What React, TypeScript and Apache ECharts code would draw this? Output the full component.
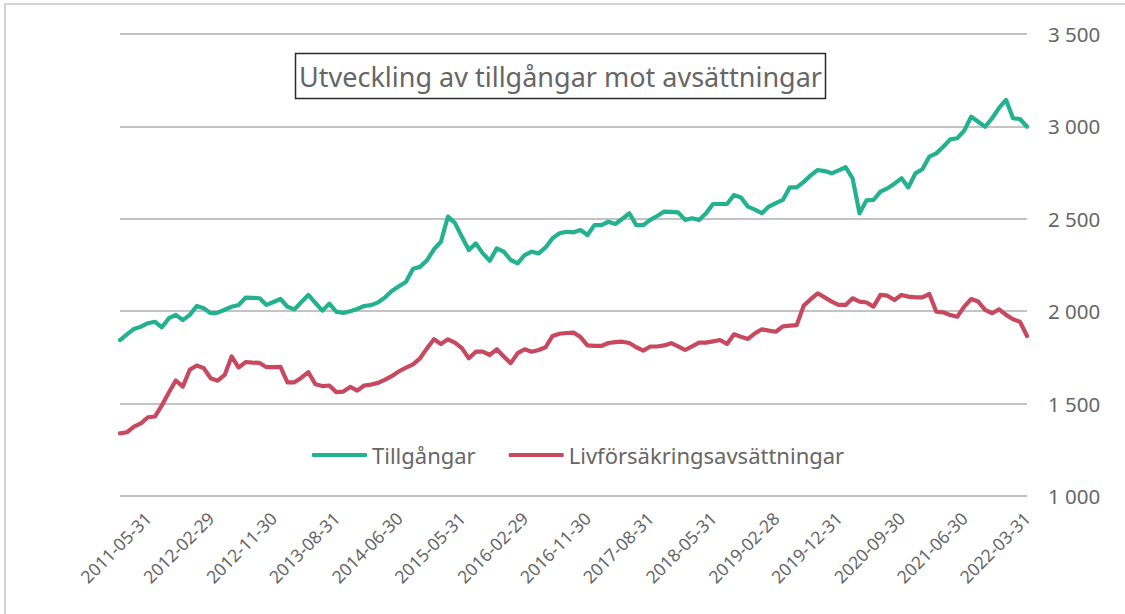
import React, { useEffect, useRef } from "react";
import * as echarts from "echarts";

const categories: string[] = [
  "2011-01-31", "2011-02-28", "2011-03-31", "2011-04-30", "2011-05-31", "2011-06-30", "2011-07-31", "2011-08-31", "2011-09-30", "2011-10-31", "2011-11-30", "2011-12-31",
  "2012-01-31", "2012-02-29", "2012-03-31", "2012-04-30", "2012-05-31", "2012-06-30", "2012-07-31", "2012-08-31", "2012-09-30", "2012-10-31", "2012-11-30", "2012-12-31",
  "2013-01-31", "2013-02-28", "2013-03-31", "2013-04-30", "2013-05-31", "2013-06-30", "2013-07-31", "2013-08-31", "2013-09-30", "2013-10-31", "2013-11-30",
  "2014-01-31", "2014-02-28", "2014-03-31", "2014-04-30", "2014-05-31", "2014-06-30", "2014-07-31", "2014-08-31", "2014-09-30", "2014-10-31", "2014-11-30",
  "2015-02-28", "2015-03-31", "2015-04-30", "2015-05-31", "2015-06-30", "2015-07-31", "2015-08-31", "2015-09-30", "2015-10-31", "2015-11-30", "2015-12-31",
  "2016-01-31", "2016-02-29", "2016-03-31", "2016-04-30", "2016-05-31", "2016-06-30", "2016-07-31", "2016-08-31", "2016-09-30", "2016-10-31", "2016-11-30", "2016-12-31",
  "2017-01-31", "2017-02-28", "2017-03-31", "2017-04-30", "2017-05-31", "2017-06-30", "2017-07-31", "2017-08-31", "2017-09-30", "2017-10-31", "2017-11-30", "2017-12-31",
  "2018-01-31", "2018-02-28", "2018-03-31", "2018-04-30", "2018-05-31", "2018-06-30", "2018-07-31", "2018-08-31", "2018-09-30", "2018-10-31", "2018-11-30", "2018-12-31",
  "2019-01-31", "2019-02-28", "2019-03-31", "2019-04-30", "2019-05-31", "2019-07-31", "2019-08-31", "2019-09-30", "2019-10-31", "2019-11-30", "2019-12-31",
  "2020-01-31", "2020-02-29", "2020-03-31", "2020-04-30", "2020-05-31", "2020-06-30", "2020-07-31", "2020-08-31", "2020-09-30", "2020-10-31", "2020-11-30", "2020-12-31",
  "2021-01-31", "2021-02-28", "2021-03-31", "2021-04-30", "2021-05-31", "2021-06-30", "2021-07-31", "2021-08-31", "2021-09-30", "2021-10-31", "2021-11-30", "2021-12-31",
  "2022-01-31", "2022-02-28", "2022-03-31",
];

const tillgangar: number[] = [
  1844, 1875, 1904, 1916, 1935, 1943, 1913, 1962, 1980, 1952, 1980, 2028,
  2016, 1989, 1992, 2008, 2024, 2034, 2073, 2072, 2070, 2034, 2050, 2066,
  2024, 2010, 2050, 2088, 2045, 2003, 2041, 1997, 1991, 2000, 2012,
  2028, 2033, 2048, 2075, 2111, 2135, 2160, 2230, 2240, 2275, 2335,
  2376, 2512, 2478, 2403, 2331, 2367, 2313, 2273, 2340, 2322, 2277,
  2259, 2304, 2322, 2313, 2345, 2395, 2422, 2430, 2427, 2439, 2412, 2466,
  2466, 2484, 2472, 2500, 2530, 2466, 2466, 2494, 2515, 2539, 2537, 2535,
  2494, 2503, 2494, 2530, 2580, 2580, 2580, 2629, 2615, 2566, 2550, 2530,
  2566, 2585, 2602, 2670, 2670, 2700, 2735, 2764, 2758, 2746, 2762,
  2779, 2719, 2530, 2600, 2602, 2647, 2665, 2690, 2719, 2670, 2746, 2768,
  2836, 2854, 2890, 2930, 2936, 2977, 3052, 3025, 2998, 3044, 3100, 3143,
  3044, 3040, 2998,
];

const livforsakringsavsattningar: number[] = [
  1339, 1345, 1375, 1393, 1426, 1430, 1490, 1560, 1625, 1592, 1683, 1706,
  1692, 1637, 1624, 1655, 1755, 1695, 1725, 1722, 1720, 1697, 1697, 1699,
  1615, 1615, 1640, 1670, 1605, 1595, 1598, 1562, 1565, 1590, 1570,
  1598, 1603, 1612, 1630, 1650, 1675, 1695, 1712, 1745, 1799, 1848,
  1823, 1848, 1830, 1800, 1745, 1781, 1781, 1763, 1794, 1755, 1719,
  1773, 1794, 1781, 1790, 1805, 1866, 1878, 1882, 1884, 1860, 1815, 1812,
  1812, 1828, 1833, 1835, 1828, 1805, 1787, 1809, 1809, 1815, 1827, 1810,
  1790, 1810, 1830, 1830, 1837, 1844, 1823, 1875, 1862, 1850, 1880, 1902,
  1895, 1889, 1918, 1922, 1925, 2030, 2065, 2097, 2075, 2052, 2034,
  2034, 2070, 2052, 2047, 2025, 2088, 2084, 2061, 2088, 2079, 2075, 2075,
  2093, 1997, 1994, 1979, 1970, 2025, 2066, 2052, 2007, 1989, 2010, 1980,
  1956, 1943, 1866,
];

const seriesNames = ["Tillgångar", "Livförsäkringsavsättningar"];
const titleText = "Utveckling av tillgångar mot avsättningar";
const yTicks = { min: 1000, max: 3500, interval: 500 };
const firstLabelIndex = 4;
const labelStep = 9;

const FONT = "'Noto Sans', 'Open Sans', sans-serif";
const TEXT_COLOR = "#666666";

function formatThousands(v: number): string {
  return String(v).replace(/\B(?=(\d{3})+(?!\d))/g, " ");
}

export default function App() {
  const ref = useRef<HTMLDivElement>(null);

  useEffect(() => {
    if (!ref.current) return;
    const chart = echarts.init(ref.current, undefined, { renderer: "svg" });
    chart.setOption({
      animation: false,
      backgroundColor: "#ffffff",
      grid: { left: 120, right: 98, top: 34, bottom: 118, containLabel: false },
      legend: {
        data: seriesNames,
        left: 307,
        top: 437,
        icon: "roundRect",
        itemWidth: 55,
        itemHeight: 4,
        itemGap: 33,
        textStyle: { fontFamily: FONT, fontSize: 22, color: TEXT_COLOR, lineHeight: 26 },
      },
      xAxis: {
        type: "category",
        data: categories,
        boundaryGap: false,
        axisLine: { show: false },
        axisTick: { show: false },
        axisLabel: {
          rotate: 45,
          interval: (index: number) => index >= firstLabelIndex && (index - firstLabelIndex) % labelStep === 0,
          fontFamily: FONT,
          fontSize: 17.5,
          color: TEXT_COLOR,
          margin: 19,
        },
        splitLine: { show: false },
      },
      yAxis: {
        type: "value",
        position: "right",
        min: yTicks.min,
        max: yTicks.max,
        interval: yTicks.interval,
        axisLine: { show: false },
        axisTick: { show: false },
        axisLabel: {
          formatter: (v: number) => formatThousands(v),
          fontFamily: FONT,
          fontSize: 20.5,
          color: TEXT_COLOR,
          margin: 21,
        },
        splitLine: { lineStyle: { color: "#c3c3c3", width: 2 } },
      },
      series: [
        {
          name: seriesNames[0],
          type: "line",
          data: tillgangar,
          symbol: "none",
          lineStyle: { color: "#22b28f", width: 4.2, join: "round", cap: "round" },
          itemStyle: { color: "#22b28f" },
        },
        {
          name: seriesNames[1],
          type: "line",
          data: livforsakringsavsattningar,
          symbol: "none",
          lineStyle: { color: "#c8485f", width: 4.2, join: "round", cap: "round" },
          itemStyle: { color: "#c8485f" },
        },
      ],
      graphic: [
        {
          type: "rect",
          silent: true,
          shape: { x: 5, y: 4, width: 1300, height: 800 },
          style: { fill: "none", stroke: "#d4d4d4", lineWidth: 2 },
        },
        {
          type: "rect",
          silent: true,
          shape: { x: 295.5, y: 53.5, width: 530, height: 45 },
          style: { fill: "#ffffff", stroke: "#2b2b2b", lineWidth: 1.5 },
          z: 10,
        },
        {
          type: "text",
          silent: true,
          x: 560.5,
          y: 76,
          style: {
            text: titleText,
            fontFamily: FONT,
            fontSize: 27,
            fill: TEXT_COLOR,
            align: "center",
            verticalAlign: "middle",
          },
          z: 11,
        },
      ],
    });
    return () => chart.dispose();
  }, []);

  return (
    <div
      ref={ref}
      style={{ position: "fixed", left: 0, top: 0, width: 1125, height: 614, background: "#fff" }}
    />
  );
}
